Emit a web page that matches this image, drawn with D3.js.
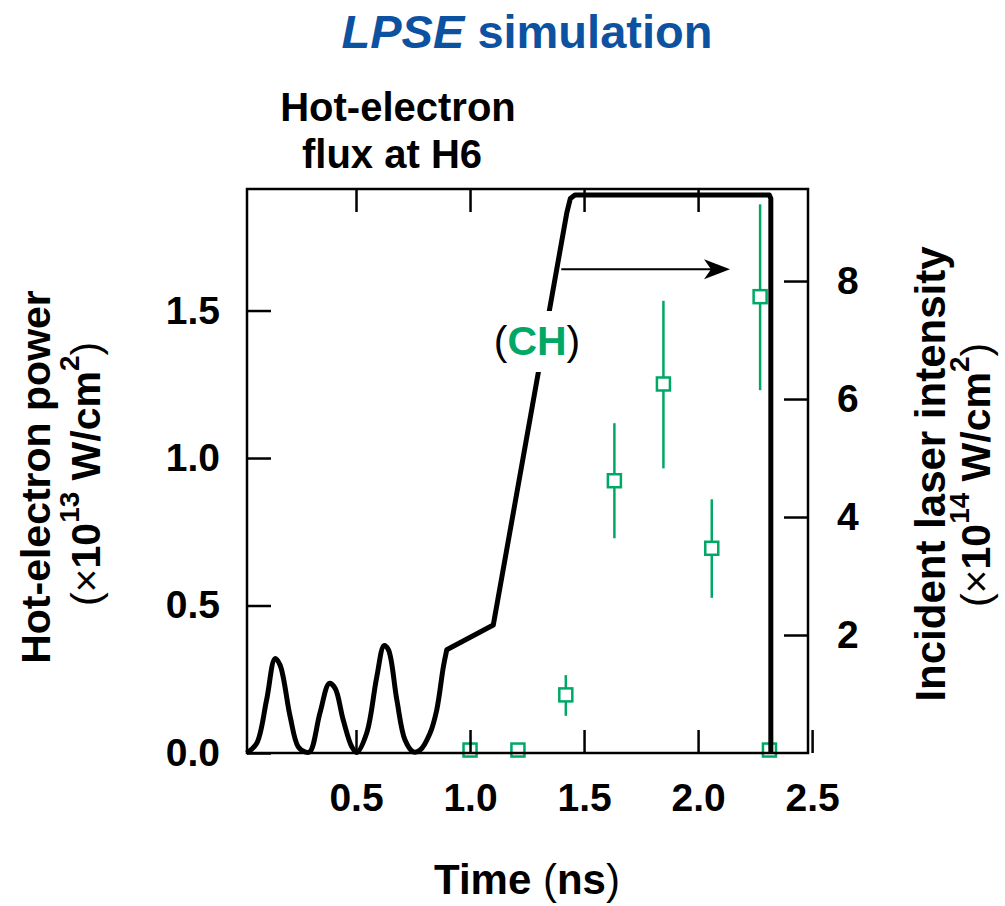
<!DOCTYPE html>
<html>
<head>
<meta charset="utf-8">
<script src="https://cdn.jsdelivr.net/npm/d3@7"></script>
<style>
  html, body { margin: 0; padding: 0; background: #fff; }
  svg { display: block; font-family: "Liberation Sans", Arial, Helvetica, sans-serif; }
  .tick text { font-weight: bold; font-size: 39px; fill: #000; }
</style>
</head>
<body>
<svg id="chart" width="1005" height="906"></svg>
<script>
// Incident laser pulse (right axis, ×10^14 W/cm²)
const laserTime = [0.02, 0.064, 0.108, 0.145, 0.167, 0.211, 0.246, 0.276, 0.298, 0.342, 0.383, 0.408,
  0.444, 0.481, 0.503, 0.547, 0.591, 0.623, 0.642, 0.679, 0.715, 0.751, 0.781, 0.825, 0.854, 0.883,
  0.898, 1.102, 1.424, 1.440, 1.460, 2.312, 2.319, 2.319];
const laserIntensity = [0.0, 0.16, 0.90, 1.60, 1.49, 0.62, 0.11, 0.02, 0.02, 0.68, 1.18, 1.10,
  0.56, 0.11, 0.01, 0.34, 1.29, 1.82, 1.75, 0.90, 0.22, 0.02, 0.05, 0.34, 0.73, 1.46,
  1.75, 2.17, 9.15, 9.40, 9.46, 9.46, 9.40, 0.0];
// The picket train is smooth; from the foot onward the pulse is piecewise linear
const smoothUntil = 26;

// LPSE hot-electron power at H6 (left axis, ×10^13 W/cm²)
const fluxTime  = [1.0, 1.21, 1.42, 1.633, 1.848, 2.06, 2.272, 2.313];
const fluxPower = [0.01, 0.01, 0.197, 0.923, 1.251, 0.694, 1.547, 0.01];
const fluxLow   = [null, null, 0.126, 0.728, 0.965, 0.526, 1.23, null];
const fluxHigh  = [null, null, 0.264, 1.118, 1.533, 0.86, 1.86, null];

// Axis ticks
const timeTicks = [0.5, 1.0, 1.5, 2.0, 2.5];
const powerTicks = [0.0, 0.5, 1.0, 1.5];
const intensityTicks = [2, 4, 6, 8];

// Arrow pointing from the pulse toward the right-hand axis
const arrowTime = [1.40, 2.14];
const arrowLevel = 8.2;

const green = "#00a865";
const blue = "#0d52a0";

const svg = d3.select("#chart");
const plotLeft = 247, plotRight = 808, plotTop = 189, plotBottom = 753;

const x = d3.scaleLinear().domain([0.022, 2.482]).range([plotLeft, plotRight]);
const yL = d3.scaleLinear().domain([0, 1.912]).range([plotBottom, plotTop]);
const yR = d3.scaleLinear().domain([0, 9.56]).range([plotBottom, plotTop]);

// Title
const title = svg.append("text")
  .attr("x", 527).attr("y", 48)
  .attr("text-anchor", "middle")
  .attr("font-size", 47).attr("font-weight", "bold")
  .attr("fill", blue);
title.append("tspan").attr("font-style", "italic").text("LPSE");
title.append("tspan").text(" simulation");

// Panel label
svg.append("text").attr("x", 398).attr("y", 121)
  .attr("text-anchor", "middle").attr("font-size", 40).attr("font-weight", "bold")
  .text("Hot-electron");
svg.append("text").attr("x", 392).attr("y", 168)
  .attr("text-anchor", "middle").attr("font-size", 40).attr("font-weight", "bold")
  .text("flux at H6");

// Error bars and markers
const pts = fluxTime.map((t, i) => ({t, v: fluxPower[i], lo: fluxLow[i], hi: fluxHigh[i]}));
const g = svg.append("g");
g.selectAll("line.err").data(pts.filter(d => d.lo !== null)).join("line")
  .attr("class", "err")
  .attr("x1", d => x(d.t)).attr("x2", d => x(d.t))
  .attr("y1", d => yL(d.lo)).attr("y2", d => yL(d.hi))
  .attr("stroke", green).attr("stroke-width", 2.5);
const sq = 13;
g.selectAll("rect.pt").data(pts).join("rect")
  .attr("class", "pt")
  .attr("x", d => x(d.t) - sq / 2).attr("y", d => yL(d.v) - sq / 2)
  .attr("width", sq).attr("height", sq)
  .attr("fill", "#fff").attr("stroke", green).attr("stroke-width", 2.5);

// Laser pulse
const laser = laserTime.map((t, i) => [t, laserIntensity[i]]);
const smoothLine = d3.line().x(d => x(d[0])).y(d => yR(d[1])).curve(d3.curveCatmullRom.alpha(0.5));
const straightLine = d3.line().x(d => x(d[0])).y(d => yR(d[1]));
const pulsePath = smoothLine(laser.slice(0, smoothUntil + 1)) +
  straightLine(laser.slice(smoothUntil)).replace(/^M/, "L");
svg.append("path")
  .attr("d", pulsePath)
  .attr("fill", "none").attr("stroke", "#000").attr("stroke-width", 5)
  .attr("stroke-linejoin", "round").attr("stroke-linecap", "butt");

// Arrow
const ax1 = x(arrowTime[0]), ax2 = x(arrowTime[1]), ay = yR(arrowLevel);
svg.append("line").attr("x1", ax1).attr("x2", ax2 - 10).attr("y1", ay).attr("y2", ay)
  .attr("stroke", "#000").attr("stroke-width", 2.2);
svg.append("path")
  .attr("d", `M${ax2},${ay} L${ax2 - 26},${ay - 10} L${ax2 - 19},${ay} L${ax2 - 26},${ay + 10} Z`)
  .attr("fill", "#000");

// (CH) label with a white backing
svg.append("rect").attr("x", 490).attr("y", 311).attr("width", 94).attr("height", 61).attr("fill", "#fff");
const ch = svg.append("text").attr("x", 537).attr("y", 355)
  .attr("text-anchor", "middle").attr("font-size", 41);
ch.append("tspan").text("(");
ch.append("tspan").attr("font-weight", "bold").attr("fill", green).text("CH");
ch.append("tspan").text(")");

// Axes
const fmt1 = d3.format(".1f");
svg.append("g").attr("transform", `translate(0,${plotBottom})`)
  .call(d3.axisBottom(x).tickValues(timeTicks).tickFormat(fmt1).tickSizeInner(-23).tickSizeOuter(0).tickPadding(30))
  .call(a => a.select(".domain").remove());
svg.append("g").attr("transform", `translate(0,${plotTop})`)
  .call(d3.axisTop(x).tickValues(timeTicks.slice(0, 4)).tickFormat("").tickSizeInner(-23).tickSizeOuter(0))
  .call(a => a.select(".domain").remove());
svg.append("g").attr("transform", `translate(${plotLeft},0)`)
  .call(d3.axisLeft(yL).tickValues(powerTicks).tickFormat(fmt1).tickSizeInner(-24).tickSizeOuter(0).tickPadding(27))
  .call(a => a.select(".domain").remove());
svg.append("g").attr("transform", `translate(${plotRight},0)`)
  .call(d3.axisRight(yR).tickValues(intensityTicks).tickFormat(d3.format("d")).tickSizeInner(-24).tickSizeOuter(0).tickPadding(29))
  .call(a => a.select(".domain").remove());
svg.selectAll(".tick line").attr("stroke", "#000").attr("stroke-width", 2.5);

// Frame
svg.append("rect").attr("x", plotLeft).attr("y", plotTop)
  .attr("width", plotRight - plotLeft).attr("height", plotBottom - plotTop)
  .attr("fill", "none").attr("stroke", "#000").attr("stroke-width", 2.5);

// Axis titles
const xt = svg.append("text").attr("x", 527).attr("y", 894)
  .attr("text-anchor", "middle").attr("font-size", 42);
xt.append("tspan").attr("font-weight", "bold").text("Time ");
xt.append("tspan").text("(");
xt.append("tspan").attr("font-weight", "bold").text("ns");
xt.append("tspan").text(")");

function unitsLabel(sel, exp) {
  sel.append("tspan").text("(×");
  sel.append("tspan").attr("font-weight", "bold").text("10");
  sel.append("tspan").attr("font-weight", "bold").attr("font-size", "0.68em").attr("dy", "-0.75em").text(exp);
  sel.append("tspan").attr("font-weight", "bold").attr("dy", "0.51em").text(" W/cm");
  sel.append("tspan").attr("font-weight", "bold").attr("font-size", "0.68em").attr("dy", "-0.75em").text("2");
  sel.append("tspan").attr("dy", "0.51em").text(")");
}

svg.append("text").attr("transform", "translate(50,477) rotate(-90)")
  .attr("text-anchor", "middle").attr("font-size", 41).attr("font-weight", "bold")
  .text("Hot-electron power");
unitsLabel(svg.append("text").attr("transform", "translate(100,474) rotate(-90)")
  .attr("text-anchor", "middle").attr("font-size", 41), "13");

svg.append("text").attr("transform", "translate(945,474) rotate(-90)")
  .attr("text-anchor", "middle").attr("font-size", 42).attr("font-weight", "bold")
  .text("Incident laser intensity");
unitsLabel(svg.append("text").attr("transform", "translate(990,475) rotate(-90)")
  .attr("text-anchor", "middle").attr("font-size", 41), "14");
</script>
</body>
</html>
